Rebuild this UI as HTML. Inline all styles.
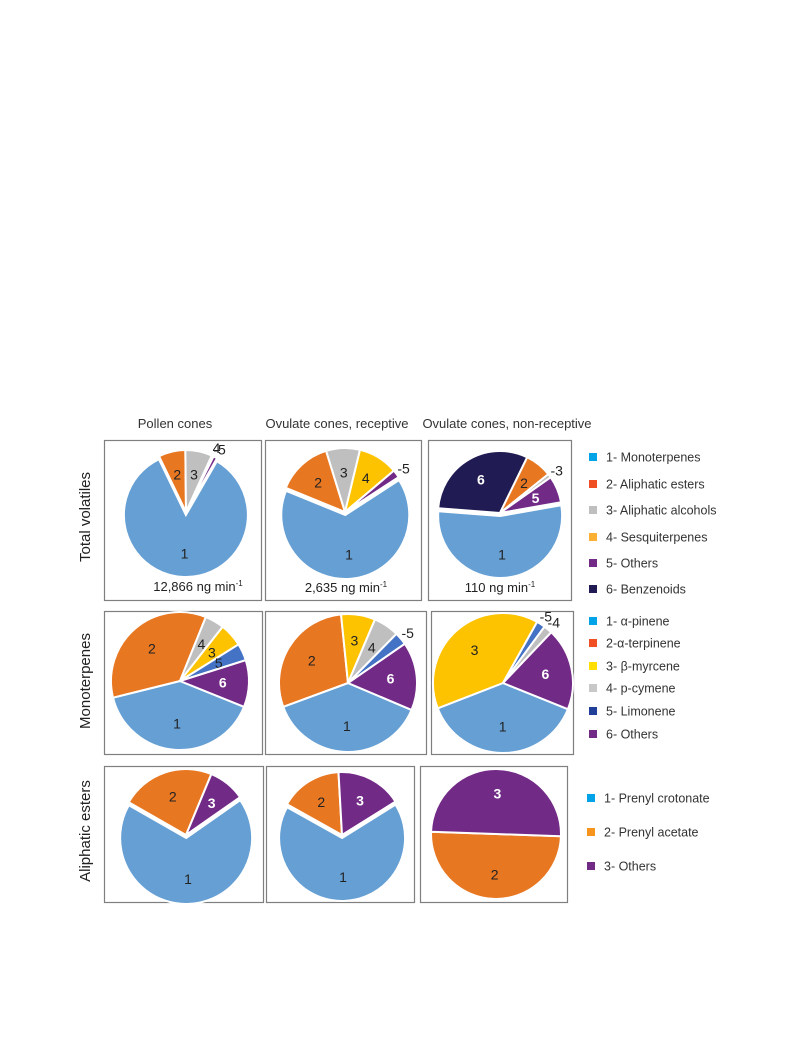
<!DOCTYPE html>
<html><head><meta charset="utf-8"><style>
body{margin:0;background:#fff;}
svg{display:block;font-family:"Liberation Sans",sans-serif;}
</style></head><body>
<svg id="c" width="793" height="1057" viewBox="0 0 793 1057">
<g id="frames" fill="none" stroke="#7f7f7f" stroke-width="1.2">
<rect x="104.5" y="440.5" width="157" height="160"/>
<rect x="265.5" y="440.5" width="156" height="160"/>
<rect x="428.5" y="440.5" width="143" height="160"/>
<rect x="104.5" y="611.5" width="158" height="143"/>
<rect x="265.5" y="611.5" width="161" height="143"/>
<rect x="431.5" y="611.5" width="142" height="143"/>
<rect x="104.5" y="766.5" width="159" height="136"/>
<rect x="266.5" y="766.5" width="148" height="136"/>
<rect x="420.5" y="766.5" width="147" height="136"/>
</g>
<g font-size="13" fill="#333" text-anchor="middle">
<text x="175" y="428">Pollen cones</text>
<text x="337" y="428">Ovulate cones, receptive</text>
<text x="507" y="428">Ovulate cones, non-receptive</text>
</g>
<g font-size="15" fill="#222" text-anchor="middle">
<text transform="translate(90,517) rotate(-90)">Total volatiles</text>
<text transform="translate(90,681) rotate(-90)">Monoterpenes</text>
<text transform="translate(90,831) rotate(-90)">Aliphatic esters</text>
</g>
<g font-size="13" fill="#222" text-anchor="middle">
<text x="198" y="591">12,866 ng min<tspan font-size="8" dy="-5">-1</tspan></text>
<text x="346" y="592">2,635 ng min<tspan font-size="8" dy="-5">-1</tspan></text>
<text x="500" y="592">110 ng min<tspan font-size="8" dy="-5">-1</tspan></text>
</g>
<g id="pies"></g>
<g id="legends" font-size="12.5" fill="#333"></g>
</svg>
<script>
// Clockwise slice order, values as percentages, start angle in degrees (clockwise from 12 o'clock)
const pieNames = ["total-pollen","total-receptive","total-nonreceptive","mono-pollen","mono-receptive","mono-nonreceptive","esters-pollen","esters-receptive","esters-nonreceptive"];
const sliceLabels = [
  ["1","2","3","4","5"],
  ["1","2","3","4","5"],
  ["1","6","2","3","5"],
  ["1","2","4","3","5","6"],
  ["1","2","3","4","5","6"],
  ["1","3","5","4","6"],
  ["1","2","3"],
  ["1","2","3"],
  ["2","3"]
];
const sliceValues = [
  [84.5,7,7,0.5,1],
  [65,14,8.5,10,2],
  [54,31,7,1,7],
  [40,35,4.5,5.5,4,11],
  [38,29,8,6,3,16],
  [38,39,2,2,19],
  [68,23,9],
  [67,16,17],
  [50,50]
];
const startAngles = [30,57,80,112,113,112,55,58,92];
const sliceColors = {
  total:{"1":"#659fd4","2":"#e87722","3":"#bfbfbf","4":"#fdc300","5":"#722a87","6":"#201c53"},
  mono:{"1":"#659fd4","2":"#e87722","3":"#fdc300","4":"#bfbfbf","5":"#4472c4","6":"#722a87"},
  esters:{"1":"#659fd4","2":"#e87722","3":"#722a87"}
};
const centers=[[186,512],[345,512],[500,513],[180,681],[348,683],[503,683],[186,835],[342,835],[496,834]];
const radii=[62,64,62,69,69,70,66,63,65];
const explodeBlue=[1,1,1,0,0,0,1,1,0];

const NS="http://www.w3.org/2000/svg";
const pies=document.getElementById('pies');
function pt(cx,cy,r,a){const t=a*Math.PI/180;return [cx+r*Math.sin(t),cy-r*Math.cos(t)];}
pieNames.forEach((name,i)=>{
  const g=document.createElementNS(NS,'g');
  
  
  pies.appendChild(g);
  const vals=sliceValues[i],labs=sliceLabels[i];
  const tot=vals.reduce((a,b)=>a+b,0);
  const grp=name.split('-')[0];
  let a=startAngles[i];
  const [cx0,cy0]=centers[i],r=radii[i];
  vals.forEach((v,j)=>{
    const sweep=v/tot*360,a2=a+sweep,mid=a+sweep/2;
    let cx=cx0,cy=cy0;
    if(labs[j]==="1"&&explodeBlue[i]){const o=pt(0,0,3,mid);cx+=o[0];cy+=o[1];}
    const p1=pt(cx,cy,r,a),p2=pt(cx,cy,r,a2);
    const path=document.createElementNS(NS,'path');
    path.setAttribute('d',`M${cx},${cy}L${p1[0]},${p1[1]}A${r},${r} 0 ${sweep>180?1:0} 1 ${p2[0]},${p2[1]}Z`);
    path.setAttribute('fill',sliceColors[grp][labs[j]]);
    path.setAttribute('stroke','#fff');
    path.setAttribute('stroke-width','2');
    
    
    g.appendChild(path);
    const pct=v/tot*100;
    const small=pct<3.5;
    const lp=pt(cx,cy,small?r+9:r*0.62,mid);
    const t=document.createElementNS(NS,'text');
    t.setAttribute('x',lp[0]);t.setAttribute('y',lp[1]+5);
    t.setAttribute('text-anchor','middle');
    t.setAttribute('font-size','14');
    const dark=["#722a87","#201c53"].includes(sliceColors[grp][labs[j]])&&!small;
    t.setAttribute('fill',dark?'#fff':'#222');
    if(dark)t.setAttribute('font-weight','bold');
    t.textContent=(small&&labs[j]!=="4"||small&&i>2?"-":"")+labs[j];
    
    
    g.appendChild(t);
    a=a2;
  });
});

const legendTotal=["1- Monoterpenes","2- Aliphatic esters","3- Aliphatic alcohols","4- Sesquiterpenes","5- Others","6- Benzenoids"];
const legendMono=["1- α-pinene","2-α-terpinene","3- β-myrcene","4- p-cymene","5- Limonene","6- Others"];
const legendEsters=["1- Prenyl crotonate","2- Prenyl acetate","3- Others"];
const legendSets=[
 {items:legendTotal,ys:[457,484,510,537,563,589],cols:["#00a2e8","#f04e23","#bfbfbf","#fbb034","#722a87","#201c53"],x:589},
 {items:legendMono,ys:[621,643,666,688,711,734],cols:["#00a2e8","#f04e23","#ffde00","#c8c8c8","#1f3f99","#722a87"],x:589},
 {items:legendEsters,ys:[798,832,866],cols:["#00a2e8","#f7941d","#722a87"],x:587}
];
const lg=document.getElementById('legends');
legendSets.forEach((s,k)=>{
  s.items.forEach((txt,j)=>{
    const r=document.createElementNS(NS,'rect');
    r.setAttribute('x',s.x);r.setAttribute('y',s.ys[j]-4);r.setAttribute('width',8);r.setAttribute('height',8);
    r.setAttribute('fill',s.cols[j]);
    
    
    lg.appendChild(r);
    const t=document.createElementNS(NS,'text');
    t.setAttribute('x',s.x+17);t.setAttribute('y',s.ys[j]+4.5);
    t.textContent=txt;
    
    
    lg.appendChild(t);
  });
});
</script>
</body></html>
